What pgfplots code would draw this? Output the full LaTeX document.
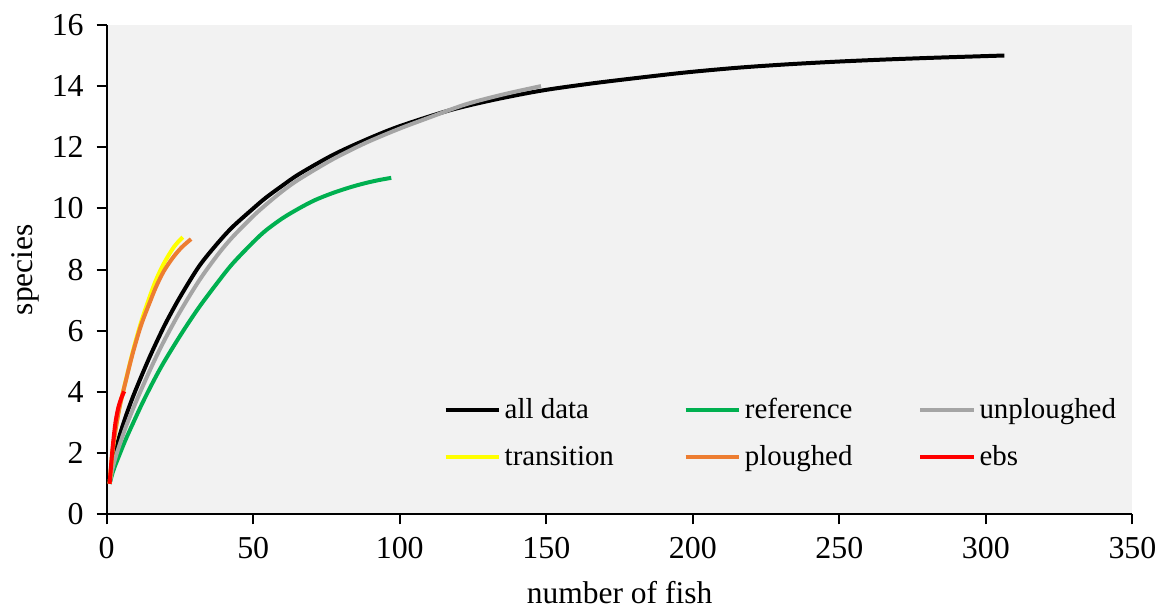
\documentclass[border=0pt]{standalone}
\usepackage{pgfplots}
\pgfplotsset{compat=1.18}
\usepackage{fontspec}
\setmainfont{Liberation Serif}
\definecolor{bgc}{HTML}{F2F2F2}
\definecolor{cgreen}{HTML}{00B050}
\definecolor{cgray}{HTML}{A5A5A5}
\definecolor{corange}{HTML}{ED7D31}
\definecolor{cyellow}{HTML}{FFFF00}
\definecolor{cred}{HTML}{FF0000}
\newcommand{\fst}{\fontsize{16pt}{19pt}\selectfont}
\newcommand{\fsl}{\fontsize{15.8pt}{19pt}\selectfont}
\newcommand{\fsg}{\fontsize{14.5pt}{17pt}\selectfont}
\begin{document}
\begin{tikzpicture}
\begin{axis}[
  name=ax,
  scale only axis,
  width=514.5pt, height=245.5pt,
  xmin=0, xmax=350, ymin=0, ymax=16,
  xtick={0,50,...,350}, ytick={0,2,...,16},
  axis lines*=left,
  axis line style={line width=1pt, black},
  tick align=outside,
  major tick length=5pt,
  tick style={line width=1pt, black},
  axis background/.style={fill=bgc},
  /pgf/number format/assume math mode=true,
  ticklabel style={font=\fst},
  xticklabel style={yshift=-3pt},
  yticklabel style={xshift=-3pt},
  label style={font=\fsl},
  xlabel={number of fish},
  ylabel={species},
  xlabel style={at={(axis description cs:0.5,-0.1813)}, anchor=base},
  ylabel style={at={(axis description cs:-0.0719,0.5)}, anchor=base},
  legend style={draw=none, fill=none, font=\fsg,
    at={(axis description cs:0.328,0.165)}, anchor=west,
    legend columns=3, row sep=7.9pt,
    /tikz/column 2/.style={column sep=33pt},
    /tikz/column 4/.style={column sep=31pt},
    inner sep=0pt},
  legend cell align=left,
  legend image code/.code={\draw[#1, line width=2pt] (0pt,0pt) -- (26.7pt,0pt);},
  every axis plot/.append style={line width=2pt, smooth},
]
% all data
\addplot[black] coordinates {(1,1) (2,1.6) (3,2.05) (4.5,2.6) (6.5,3.2) (9,3.85) (12,4.55) (14.7,5.15) (17.5,5.73) (20.3,6.28) (25,7.1) (31.6,8.12) (38,8.88) (43,9.4) (50,10.0) (54.3,10.35) (60,10.75) (65.6,11.12) (77,11.74) (88.3,12.24) (99.7,12.68) (116.7,13.2) (132,13.55) (148.2,13.85) (165,14.08) (181.3,14.27) (198,14.45) (215.3,14.6) (232,14.71) (249.3,14.8) (266,14.87) (283.3,14.93) (306.3,15.0)};
\addlegendentry{all data}
% reference
\addplot[cgreen] coordinates {(1,1) (2,1.35) (3,1.62) (4.5,1.98) (6.5,2.45) (9,2.98) (12,3.6) (14.7,4.12) (17.5,4.63) (20.3,5.1) (26,5.98) (31.6,6.78) (38,7.6) (43,8.2) (50,8.9) (54.3,9.28) (60,9.68) (65.6,10.0) (71,10.27) (77,10.5) (83,10.69) (88.3,10.83) (93,10.93) (97.1,11.0)};
\addlegendentry{reference}
% unploughed
\addplot[cgray] coordinates {(1,1) (2,1.5) (3,1.85) (4.5,2.3) (6.5,2.85) (9,3.45) (12,4.12) (14.7,4.7) (17.5,5.27) (20.3,5.8) (25,6.62) (31.6,7.65) (38,8.5) (43,9.07) (50,9.75) (54.3,10.12) (60,10.57) (65.6,10.95) (77,11.6) (88.3,12.14) (99.7,12.6) (110,12.97) (122.4,13.4) (135,13.72) (148.2,14.0)};
\addlegendentry{unploughed}
% transition
\addplot[cyellow] coordinates {(1,1) (2,2.05) (3,2.75) (4.5,3.55) (6.7,4.45) (9,5.35) (11.8,6.3) (15,7.2) (17,7.7) (19.5,8.2) (22.5,8.68) (24.5,8.92) (26,9.06)};
\addlegendentry{transition}
% ploughed
\addplot[corange] coordinates {(1,1) (2,2.05) (3,2.75) (4.5,3.55) (6.7,4.43) (9,5.3) (11.8,6.2) (15,7.0) (17,7.47) (19.5,7.95) (22.5,8.38) (25.5,8.72) (28.8,9.0)};
\addlegendentry{ploughed}
% ebs
\addplot[cred] coordinates {(1,1) (2,2.15) (3,3.0) (4,3.5) (5,3.8) (6,4.02)};
\addlegendentry{ebs}
\end{axis}
\path ([shift={(-53.5pt,-46pt)}]ax.south west) rectangle ([shift={(13.5pt,12.5pt)}]ax.north east);
\end{tikzpicture}
\end{document}
